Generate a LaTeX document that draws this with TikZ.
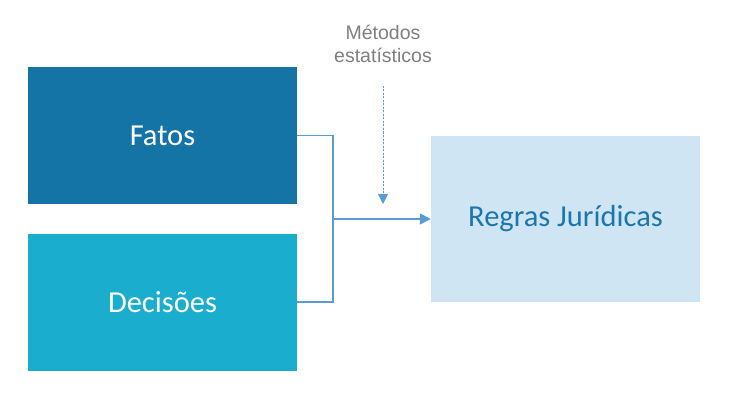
\documentclass[tikz,border=0pt]{standalone}
\usepackage{fontspec}
\setmainfont{Carlito}
\newfontfamily\labelfont{Liberation Sans}
\usetikzlibrary{positioning,arrows.meta}
\definecolor{fatosblue}{HTML}{1574A6}
\definecolor{decisoescyan}{HTML}{1AADCE}
\definecolor{regraslight}{HTML}{CFE5F3}
\definecolor{regrastext}{HTML}{1C76AE}
\definecolor{linkblue}{HTML}{5B9BD5}
\definecolor{labelgray}{HTML}{7F7F7F}

\begin{document}
\begin{tikzpicture}
	[x=1pt,y=-1pt,
	every node/.style={shape=rectangle,inner sep=0pt,font=\fontsize{30.5}{34}\selectfont},
	inbox/.style={minimum width=269pt,minimum height=137pt,text=white},
	link/.style={draw=linkblue,line width=1.4pt},
	tip/.style={-{Triangle[length=11pt,width=11pt]}}]
	\useasboundingbox (0,0) rectangle (741,409);
	\node[inbox,fill=fatosblue] (fatos) at (162.5,135.5) {Fatos};
	\node[inbox,fill=decisoescyan] (decisoes) at (162.5,302) {Decisões};
	\node[fill=regraslight,text=regrastext,minimum width=269pt,minimum height=166pt] (regras) at (565.5,219) {Regras Jurídicas};

	\node[font=\fontsize{19.5}{22.5}\selectfont\labelfont,text=labelgray,align=center] (metodos) at (383,44) {Métodos\\estatísticos};

	\coordinate (join) at (333,219);
	\draw[link] (fatos.east) -| (join) |- (decisoes.east);
	\draw[link,tip,fill=linkblue] (join) -- (regras.west);
	\draw[draw=linkblue,line width=1pt,dash pattern=on 2pt off 1.5pt,-{Triangle[length=10pt,width=10pt]},fill=linkblue]
		(metodos.south |- 0,86) -- (metodos.south |- 0,204);
\end{tikzpicture}
\end{document}
